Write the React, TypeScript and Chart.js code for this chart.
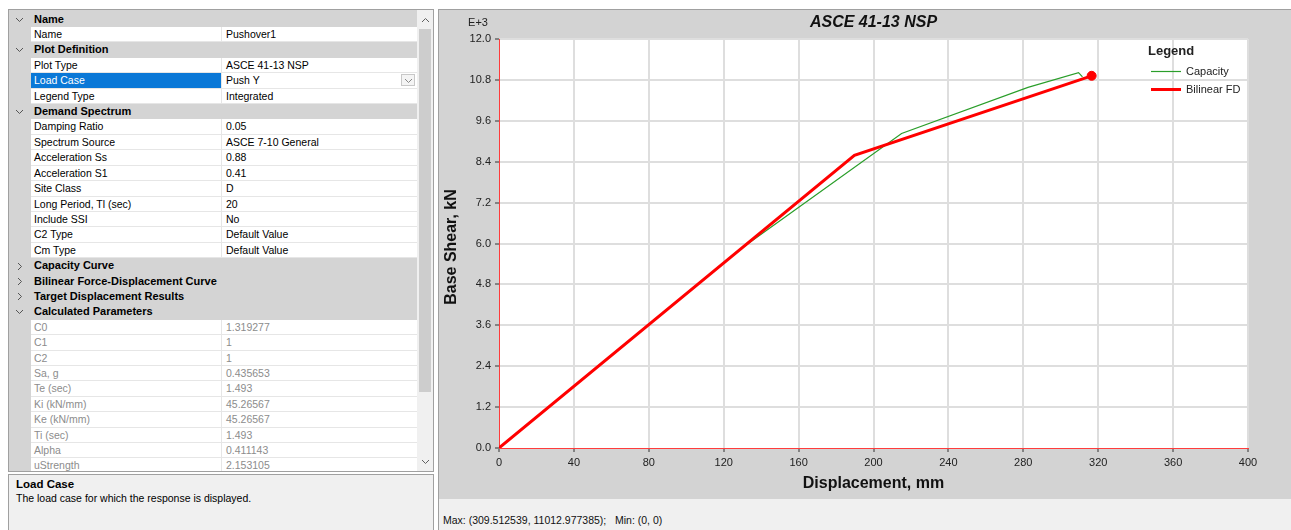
import React, { useEffect, useRef } from "react";
import { Chart, registerables } from "chart.js";

Chart.register(...registerables);

// ---- chart data (displacement in mm, base shear in kN x 1000) ----
const capacityDisp = [0, 130.5, 215, 282.5, 309.5, 311.6];
const capacityShear = [0, 5.9, 9.23, 10.58, 11.013, 10.89];
const bilinearDisp = [0, 189.8, 316.5];
const bilinearShear = [0, 8.59, 10.92];
const targetDisp = [316.5];
const targetShear = [10.92];
const xTickValues = [0, 40, 80, 120, 160, 200, 240, 280, 320, 360, 400];
const yTickValues = [0, 1.2, 2.4, 3.6, 4.8, 6.0, 7.2, 8.4, 9.6, 10.8, 12.0];
const seriesNames = ["Capacity", "Bilinear FD"];
const chartTitle = "ASCE 41-13 NSP";
const xTitle = "Displacement, mm";
const yTitle = "Base Shear, kN";
const yExponent = "E+3";
const statusText = "Max: (309.512539, 11012.977385);   Min: (0, 0)";

// ---- property grid text ----
type Row = { h?: boolean; open?: boolean; label: string; value?: string; sel?: boolean; dd?: boolean; ro?: boolean };
const propertyRows: Row[] = [
  { h: true, open: true, label: "Name" },
  { label: "Name", value: "Pushover1" },
  { h: true, open: true, label: "Plot Definition" },
  { label: "Plot Type", value: "ASCE 41-13 NSP" },
  { label: "Load Case", value: "Push Y", sel: true, dd: true },
  { label: "Legend Type", value: "Integrated" },
  { h: true, open: true, label: "Demand Spectrum" },
  { label: "Damping Ratio", value: "0.05" },
  { label: "Spectrum Source", value: "ASCE 7-10 General" },
  { label: "Acceleration Ss", value: "0.88" },
  { label: "Acceleration S1", value: "0.41" },
  { label: "Site Class", value: "D" },
  { label: "Long Period, Tl (sec)", value: "20" },
  { label: "Include SSI", value: "No" },
  { label: "C2 Type", value: "Default Value" },
  { label: "Cm Type", value: "Default Value" },
  { h: true, open: false, label: "Capacity Curve" },
  { h: true, open: false, label: "Bilinear Force-Displacement Curve" },
  { h: true, open: false, label: "Target Displacement Results" },
  { h: true, open: true, label: "Calculated Parameters" },
  { label: "C0", value: "1.319277", ro: true },
  { label: "C1", value: "1", ro: true },
  { label: "C2", value: "1", ro: true },
  { label: "Sa, g", value: "0.435653", ro: true },
  { label: "Te (sec)", value: "1.493", ro: true },
  { label: "Ki (kN/mm)", value: "45.26567", ro: true },
  { label: "Ke (kN/mm)", value: "45.26567", ro: true },
  { label: "Ti (sec)", value: "1.493", ro: true },
  { label: "Alpha", value: "0.411143", ro: true },
  { label: "uStrength", value: "2.153105", ro: true },
];
const descTitle = "Load Case";
const descText = "The load case for which the response is displayed.";

const FONT = "'Liberation Sans', Arial, sans-serif";
const ROW_H = 15.41;
const ROW_TOP = 1.6;

const zip = (xs: number[], ys: number[]) => xs.map((x, i) => ({ x, y: ys[i] }));

function Chevron({ open, color = "#555" }: { open: boolean; color?: string }) {
  return open ? (
    <svg width="9" height="6" style={{ display: "block" }}>
      <polyline points="1,1 4.5,4.5 8,1" fill="none" stroke={color} strokeWidth="1" />
    </svg>
  ) : (
    <svg width="6" height="9" style={{ display: "block" }}>
      <polyline points="1,1 4.5,4.5 1,8" fill="none" stroke={color} strokeWidth="1" />
    </svg>
  );
}

const panelPlugin = {
  id: "panelPlugin",
  beforeDraw(chart: any) {
    const { ctx, chartArea: a, width, height } = chart;
    ctx.save();
    ctx.fillStyle = "#d3d3d3";
    ctx.fillRect(0, 0, width, height);
    ctx.fillStyle = "#ffffff";
    ctx.fillRect(a.left, a.top, a.right - a.left, a.bottom - a.top);
    ctx.restore();
  },
  afterDraw(chart: any) {
    const { ctx, chartArea: a } = chart;
    ctx.save();
    // title
    ctx.fillStyle = "#111";
    ctx.font = `italic bold 16px ${FONT}`;
    ctx.textAlign = "center";
    ctx.textBaseline = "middle";
    ctx.fillText(chartTitle, (a.left + a.right) / 2, 12.5);
    // exponent
    ctx.font = `11px ${FONT}`;
    ctx.fillStyle = "#222";
    ctx.fillText(yExponent, 39, 12.5);
    // y title
    ctx.save();
    ctx.translate(13, 237);
    ctx.rotate(-Math.PI / 2);
    ctx.font = `bold 16px ${FONT}`;
    ctx.fillStyle = "#111";
    ctx.fillText(yTitle, 0, 0);
    ctx.restore();
    // legend
    const lx = a.right - 100;
    ctx.textAlign = "left";
    ctx.font = `bold 13px ${FONT}`;
    ctx.fillStyle = "#222";
    ctx.fillText("Legend", lx, a.top + 12.5);
    const ds = chart.data.datasets;
    const entries = [ds[2], ds[1]];
    entries.forEach((d: any, i: number) => {
      const y = a.top + 32.5 + i * 18;
      ctx.strokeStyle = d.borderColor;
      ctx.lineWidth = d.borderWidth;
      ctx.beginPath();
      ctx.moveTo(lx + 3, y);
      ctx.lineTo(lx + 33, y);
      ctx.stroke();
      ctx.font = `11px ${FONT}`;
      ctx.fillStyle = "#222";
      ctx.fillText(seriesNames[i], lx + 38, y);
    });
    ctx.restore();
  },
};

export default function App() {
  const canvasRef = useRef<HTMLCanvasElement>(null);

  useEffect(() => {
    const canvas = canvasRef.current;
    if (!canvas) return;
    Chart.defaults.font.family = FONT;
    const gridColor = (c: any) => (c.tick && c.tick.value === 0 ? "rgba(0,0,0,0)" : "#dedede");
    const chart = new Chart(canvas, {
      type: "scatter",
      data: {
        datasets: [
          {
            label: "Target",
            data: zip(targetDisp, targetShear),
            showLine: false,
            pointRadius: 4.5,
            pointBackgroundColor: "#ff0000",
            pointBorderColor: "#ff0000",
            borderColor: "#ff0000",
          },
          {
            label: seriesNames[1],
            data: zip(bilinearDisp, bilinearShear),
            showLine: true,
            borderColor: "#ff0000",
            borderWidth: 3,
            pointRadius: 0,
            tension: 0,
          },
          {
            label: seriesNames[0],
            data: zip(capacityDisp, capacityShear),
            showLine: true,
            borderColor: "#2a9e2a",
            borderWidth: 1.2,
            pointRadius: 0,
            tension: 0,
          },
        ],
      },
      options: {
        animation: false,
        responsive: false,
        devicePixelRatio: 1,
        layout: { padding: { left: 0, top: 29, right: 43, bottom: 0 } },
        plugins: {
          legend: { display: false },
          tooltip: { enabled: false },
          title: { display: false },
        },
        scales: {
          x: {
            type: "linear",
            min: 0,
            max: 400,
            afterFit: (s: any) => {
              s.height = 51;
            },
            afterBuildTicks: (s: any) => {
              s.ticks = xTickValues.map((v) => ({ value: v }));
            },
            ticks: {
              padding: 4,
              color: "#222",
              font: { size: 11 },
              callback: (v: any) => String(v),
            },
            grid: { color: gridColor, lineWidth: 2, tickColor: "#333", tickLength: 4, tickWidth: 1 },
            border: { color: "#ff3c3c", width: 1 },
            title: {
              display: true,
              text: xTitle,
              color: "#111",
              font: { size: 16, weight: "bold" },
              padding: { top: 0, bottom: 6 },
            },
          },
          y: {
            type: "linear",
            min: 0,
            max: 12,
            afterFit: (s: any) => {
              s.width = 60;
            },
            afterBuildTicks: (s: any) => {
              s.ticks = yTickValues.map((v) => ({ value: v }));
            },
            ticks: {
              padding: 4,
              color: "#222",
              font: { size: 11 },
              callback: (v: any) => Number(v).toFixed(1),
            },
            grid: { color: gridColor, lineWidth: 2, tickColor: "#333", tickLength: 4, tickWidth: 1 },
            border: { color: "#ff3c3c", width: 1 },
          },
        },
      },
      plugins: [panelPlugin],
    } as any);
    return () => chart.destroy();
  }, []);

  return (
    <div
      style={{
        position: "fixed",
        left: 0,
        top: 0,
        width: 1291,
        height: 530,
        background: "#ffffff",
        overflow: "hidden",
        fontFamily: FONT,
        color: "#000",
      }}
    >
      {/* property grid */}
      <div
        style={{
          position: "absolute",
          left: 8,
          top: 9,
          width: 424,
          height: 461,
          border: "1px solid #a0a0a0",
          background: "#d4d4d4",
          overflow: "hidden",
        }}
      >
        {propertyRows.map((r, i) => {
          const top = ROW_TOP + i * ROW_H;
          if (r.h) {
            return (
              <div key={i} style={{ position: "absolute", left: 0, top, width: 408, height: ROW_H, background: "#d4d4d4" }}>
                <div style={{ position: "absolute", left: r.open ? 6 : 8, top: r.open ? 5 : 3.5 }}>
                  <Chevron open={!!r.open} />
                </div>
                <span
                  style={{
                    position: "absolute",
                    left: 25,
                    top: 0,
                    lineHeight: `${ROW_H}px`,
                    fontSize: 11,
                    fontWeight: "bold",
                    whiteSpace: "nowrap",
                  }}
                >
                  {r.label}
                </span>
              </div>
            );
          }
          return (
            <div key={i} style={{ position: "absolute", left: 0, top, width: 408, height: ROW_H }}>
              <div
                style={{
                  position: "absolute",
                  left: 22,
                  top: 0,
                  width: 190,
                  height: ROW_H - 1,
                  background: r.sel ? "#0a78d7" : "#ffffff",
                  color: r.sel ? "#ffffff" : r.ro ? "#8c8c8c" : "#000",
                  fontSize: 10.5,
                  lineHeight: `${ROW_H - 1}px`,
                  paddingLeft: 3,
                  boxSizing: "border-box",
                  whiteSpace: "nowrap",
                }}
              >
                {r.label}
              </div>
              <div
                style={{
                  position: "absolute",
                  left: 213,
                  top: 0,
                  width: 195,
                  height: ROW_H - 1,
                  background: "#ffffff",
                  color: r.ro ? "#8c8c8c" : "#000",
                  fontSize: 10.5,
                  lineHeight: `${ROW_H - 1}px`,
                  paddingLeft: 4,
                  boxSizing: "border-box",
                  whiteSpace: "nowrap",
                }}
              >
                {r.value}
                {r.dd && (
                  <div
                    style={{
                      position: "absolute",
                      right: 2,
                      top: 1,
                      width: 14,
                      height: 12,
                      border: "1px solid #c8c8c8",
                      background: "#f4f4f4",
                      boxSizing: "border-box",
                    }}
                  >
                    <div style={{ position: "absolute", left: 2, top: 3 }}>
                      <Chevron open={true} color="#888" />
                    </div>
                  </div>
                )}
              </div>
              <div style={{ position: "absolute", left: 22, top: ROW_H - 1, width: 386, height: 1, background: "#e6e6e6" }} />
              <div style={{ position: "absolute", left: 212, top: 0, width: 1, height: ROW_H, background: "#e6e6e6" }} />
            </div>
          );
        })}
        {/* scrollbar */}
        <div style={{ position: "absolute", left: 408, top: 0, width: 16, height: 461, background: "#f0f0f0" }}>
          <div style={{ position: "absolute", left: 3.5, top: 7, transform: "rotate(180deg)" }}>
            <Chevron open={true} color="#606060" />
          </div>
          <div style={{ position: "absolute", left: 2, top: 19, width: 12, height: 363, background: "#cdcdcd" }} />
          <div style={{ position: "absolute", left: 3.5, top: 449 }}>
            <Chevron open={true} color="#606060" />
          </div>
        </div>
      </div>

      {/* description panel */}
      <div
        style={{
          position: "absolute",
          left: 8,
          top: 474,
          width: 424,
          height: 70,
          border: "1px solid #a0a0a0",
          background: "#f0f0f0",
        }}
      >
        <div style={{ position: "absolute", left: 7, top: 3, fontSize: 11.5, fontWeight: "bold", whiteSpace: "nowrap" }}>
          {descTitle}
        </div>
        <div style={{ position: "absolute", left: 7, top: 17, fontSize: 10.5, whiteSpace: "nowrap" }}>{descText}</div>
      </div>

      {/* chart panel */}
      <div
        style={{
          position: "absolute",
          left: 438,
          top: 9,
          width: 860,
          height: 530,
          borderLeft: "1px solid #a0a0a0",
          borderTop: "1px solid #a0a0a0",
          background: "#f0f0f0",
        }}
      />
      <canvas
        ref={canvasRef}
        width={852}
        height={489}
        style={{ position: "absolute", left: 439, top: 10, width: 852, height: 489, display: "block" }}
      />
      <div
        style={{
          position: "absolute",
          left: 443,
          top: 514,
          fontSize: 10.5,
          whiteSpace: "pre",
          color: "#111",
        }}
      >
        {statusText}
      </div>
    </div>
  );
}
